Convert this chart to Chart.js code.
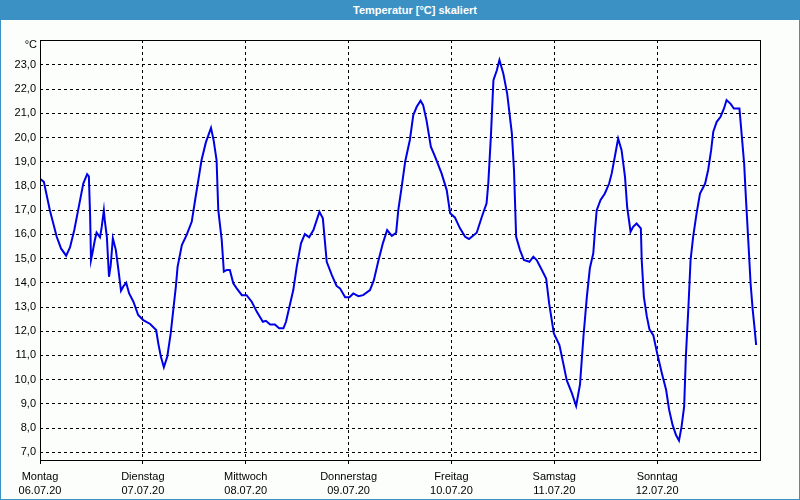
<!DOCTYPE html>
<html><head><meta charset="utf-8">
<script src="https://cdn.jsdelivr.net/npm/chart.js"></script>
<style>
html,body{margin:0;padding:0;background:#fcfefc;}
#wrap{position:relative;width:800px;height:500px;background:#fcfefc;overflow:hidden;}
#title{position:absolute;left:0;top:0;width:800px;height:20px;background:#3c91c4;color:#fff;font:bold 11px "Liberation Sans",Arial,sans-serif;line-height:20px;text-align:center;box-sizing:border-box;padding-left:30px;}
#frame{position:absolute;left:0;top:0;width:800px;height:500px;box-sizing:border-box;border:1px solid #3c91c4;border-top:none;pointer-events:none;}
canvas{position:absolute;left:0;top:0;}
</style></head>
<body>
<div id="wrap">
<canvas id="c" width="800" height="500"></canvas>
<div id="title">Temperatur [°C] skaliert</div>
<div id="frame"></div>
</div>
<script>
const dayNames = ['Montag','Dienstag','Mittwoch','Donnerstag','Freitag','Samstag','Sonntag'];
const dayDates = ['06.07.20','07.07.20','08.07.20','09.07.20','10.07.20','11.07.20','12.07.20'];
const dayTicks = [0,24,48,72,96,120,144];
const yTicks = [7,8,9,10,11,12,13,14,15,16,17,18,19,20,21,22,23];
const unitLabel = '°C';
const hours = [0,0.9,2.3,3.9,4.9,6.1,7.0,8.0,8.9,10.1,11.0,11.4,11.7,11.9,12.2,12.8,13.2,14.0,14.4,14.9,15.1,15.6,16.1,16.5,17.0,17.7,18.3,18.9,19.4,20.1,20.8,21.8,22.9,24.1,25.7,27.1,27.6,28.2,28.9,29.7,30.5,31.1,31.7,32.1,33.1,34.2,35.4,36.2,37.2,37.7,38.7,39.9,40.5,41.2,41.6,42.4,42.9,43.6,44.3,45.1,45.9,47.1,48.2,49.4,50.6,52.0,52.7,53.7,54.8,55.8,56.8,57.4,58.2,59.1,59.9,60.9,61.8,62.8,63.8,65.2,66.0,66.9,68.1,69.2,70.0,71.2,72.2,73.1,74.3,75.4,77.0,77.9,78.9,80.0,81.0,82.1,83.1,83.6,84.4,85.2,86.3,87.1,87.9,88.8,89.4,90.2,91.2,92.2,93.7,94.9,95.7,96.8,98.0,99.2,100.1,101.9,103.1,104.2,104.6,105.2,105.8,106.6,107.2,108.1,109.0,110.1,110.6,111.1,112.0,112.9,114.2,115.1,115.9,117.1,118.1,118.8,119.9,121.2,122.1,122.9,124.1,125.1,126.0,126.8,127.6,128.3,129.1,129.5,129.9,130.8,131.8,132.8,133.4,134.2,134.9,135.7,136.5,137.0,137.8,138.4,139.2,140.2,140.4,140.9,141.6,142.2,143.1,144.0,145.1,146.1,146.8,147.6,148.4,149.1,149.7,150.3,150.7,151.3,151.8,152.4,153.2,154.0,155.2,155.9,156.6,157.1,157.9,158.8,159.6,160.2,161.2,161.9,163.2,163.7,164.3,164.7,165.3,165.8,166.3,166.7,167.1];
const temps = [18.3,18.17,17.0,15.9,15.42,15.12,15.46,16.18,17.0,18.1,18.49,18.4,16.73,14.94,15.2,15.77,16.07,15.88,16.31,17.0,16.6,15.9,14.25,14.73,15.84,15.35,14.53,13.67,13.84,14.0,13.56,13.22,12.67,12.46,12.30,12.05,11.5,10.95,10.51,10.95,11.91,12.88,13.84,14.66,15.56,15.97,16.52,17.42,18.52,19.07,19.8,20.4,19.9,19.07,17.0,15.77,14.46,14.53,14.53,13.98,13.77,13.49,13.49,13.22,12.8,12.39,12.43,12.28,12.28,12.12,12.12,12.39,13.01,13.7,14.66,15.63,16.01,15.88,16.18,16.93,16.66,14.87,14.32,13.87,13.77,13.4,13.4,13.56,13.45,13.49,13.7,14.11,14.87,15.63,16.18,15.94,16.07,17.0,17.97,19.0,19.9,20.93,21.27,21.52,21.34,20.7,19.62,19.2,18.52,17.83,16.87,16.70,16.25,15.9,15.81,16.07,16.73,17.28,18.1,20.03,22.37,22.78,23.2,22.65,21.82,20.17,18.66,15.9,15.35,14.94,14.87,15.08,14.94,14.53,14.18,13.15,11.91,11.43,10.67,9.98,9.44,8.91,9.8,11.77,13.42,14.6,15.22,16.18,17.0,17.42,17.69,18.1,18.52,19.28,19.96,19.48,18.38,17.14,16.11,16.31,16.45,16.25,14.94,13.42,12.6,12.08,11.84,11.09,10.26,9.57,8.75,8.13,7.71,7.48,8.06,8.88,10.95,13.01,14.94,15.9,16.87,17.69,18.1,18.66,19.48,20.24,20.65,20.86,21.2,21.55,21.38,21.2,21.2,20.17,18.93,17.55,15.63,13.98,12.88,12.19,11.43];

const FONT = {family: '"Liberation Sans", Arial, sans-serif', size: 11};

const framePlugin = {
  id: 'frame',
  afterDraw(chart) {
    const {ctx, chartArea: a} = chart;
    ctx.save();
    ctx.strokeStyle = '#000';
    ctx.lineWidth = 1;
    ctx.setLineDash([]);
    ctx.strokeRect(Math.round(a.left) + 0.5, Math.round(a.top) + 0.5, Math.round(a.right - a.left), Math.round(a.bottom - a.top));
    ctx.fillStyle = '#000';
    ctx.font = '11px "Liberation Sans", Arial, sans-serif';
    ctx.textAlign = 'right';
    ctx.textBaseline = 'middle';
    ctx.fillText(unitLabel, a.left - 3, a.top + 5);
    ctx.restore();
  }
};

new Chart(document.getElementById('c'), {
  type: 'line',
  data: {
    datasets: [{
      data: hours.map((h, i) => ({x: h, y: temps[i]})),
      borderColor: '#0000e6',
      borderWidth: 2,
      pointRadius: 0,
      tension: 0,
      fill: false
    }]
  },
  options: {
    responsive: false,
    animation: false,
    events: [],
    layout: {padding: {left: 0, top: 40, right: 40, bottom: 0}},
    plugins: {legend: {display: false}, title: {display: false}, tooltip: {enabled: false}},
    scales: {
      x: {
        type: 'linear',
        min: 0, max: 168,
        afterBuildTicks: s => { s.ticks = dayTicks.map(v => ({value: v})); },
        afterFit: s => { s.height = 40; },
        grid: {color: '#000', lineWidth: 1, drawTicks: true, tickLength: 4, tickColor: '#000'},
        border: {display: false, dash: [3, 3]},
        ticks: {
          font: {family: FONT.family, size: 11, lineHeight: 1.36}, color: '#000', maxRotation: 0, autoSkip: false, padding: 5,
          callback: v => { const i = dayTicks.indexOf(v); return i >= 0 ? [dayNames[i], dayDates[i]] : ''; }
        }
      },
      y: {
        type: 'linear',
        min: 6.68, max: 24.03,
        afterBuildTicks: s => { s.ticks = yTicks.map(v => ({value: v})); },
        afterFit: s => { s.width = 40; },
        grid: {color: '#000', lineWidth: 1, drawTicks: false},
        border: {display: false, dash: [3, 3]},
        ticks: {
          font: FONT, color: '#000', padding: 4,
          callback: v => v.toFixed(1).replace('.', ',')
        }
      }
    }
  },
  plugins: [framePlugin]
});
</script>
</body></html>
